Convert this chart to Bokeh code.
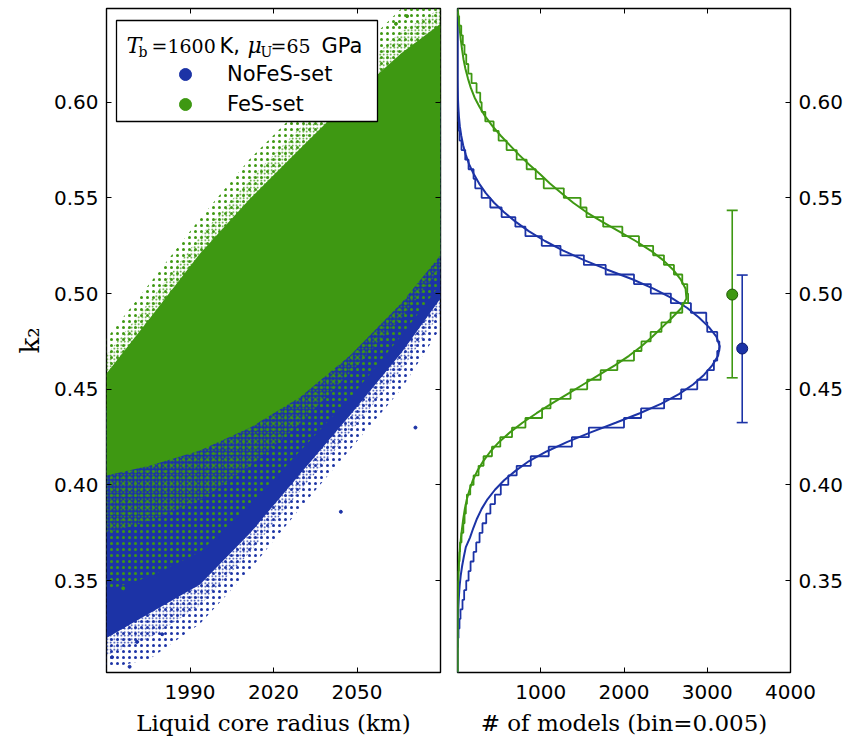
import numpy as np
from bokeh.plotting import figure
from bokeh.models import (Range1d, LinearAxis, Legend, LegendItem, BoxAnnotation,
                          Label, FixedTicker, NumeralTickFormatter)
from bokeh.layouts import row
from bokeh.embed import file_html
from bokeh.resources import INLINE

BLUE = "#1c33a6"
GREEN = "#3e9812"

# ---------------- data ----------------
radius_ticks = [1990, 2020, 2050]
k2_ticks = [0.35, 0.40, 0.45, 0.50, 0.55, 0.60]
count_ticks = [1000, 2000, 3000, 4000]

# scatter clouds: outlines (radius km, k2)
cloud_r = [1960, 1975.5, 1993.6, 2011.7, 2029.7, 2047.8, 2065.9, 2080]
nofes_outer_low = [0.304, 0.309, 0.3275, 0.356, 0.388, 0.419, 0.450, 0.482]
nofes_mid_low = [0.311, 0.320, 0.337, 0.365, 0.397, 0.428, 0.460, 0.490]
nofes_core_low = [0.320, 0.333, 0.348, 0.375, 0.406, 0.437, 0.469, 0.4975]
nofes_top = [0.44, 0.46, 0.48, 0.50, 0.52, 0.54, 0.57, 0.60]

fes_outer_top = [0.4766, 0.5053, 0.5393, 0.5707, 0.5969, 0.623, 0.649, 0.649]
fes_mid_top = [0.468, 0.496, 0.530, 0.560, 0.587, 0.613, 0.637, 0.649]
fes_core_top = [0.4583, 0.487, 0.521, 0.5498, 0.576, 0.602, 0.6256, 0.641]
fes_outer_low = [0.345, 0.352, 0.365, 0.390, 0.418, 0.446, 0.478, 0.505]
fes_mid_low = [0.375, 0.381, 0.392, 0.410, 0.432, 0.459, 0.487, 0.513]
fes_core_low = [0.405, 0.410, 0.418, 0.430, 0.446, 0.468, 0.495, 0.520]

# isolated models
nofes_pts_r = [1968.3, 1962.0, 1971.0, 2044.2, 2071.0, 1980.0]
nofes_pts_k = [0.305, 0.310, 0.318, 0.386, 0.430, 0.322]
fes_pts_r = [2064.0, 2068.0, 2056.0, 2040.0, 1966.0]
fes_pts_k = [0.641, 0.645, 0.628, 0.612, 0.346]

# histograms, bin = 0.005 from 0.300 to 0.650 (70 bins, bottom to top)
bin_lo, bin_w, n_bins = 0.300, 0.005, 70
nofes_hist = [0, 0, 0, 5, 12, 24, 36, 60, 80, 105,
              133, 157, 193, 225, 265, 300, 345, 395, 450, 520,
              610, 711, 880, 1096, 1374, 1578, 2000, 2205, 2482, 2687,
              2880, 3000, 3080, 3120, 3145, 3120, 3000, 2988, 2804, 2563,
              2322, 2120, 1780, 1518, 1237, 1012, 816, 695, 530, 394,
              290, 213, 193, 133, 93, 48, 25, 15, 8, 3,
              0, 0, 0, 0, 0, 0, 0, 0, 0, 0]
fes_hist = [0, 0, 0, 0, 0, 0, 0, 0, 3, 6,
            10, 15, 24, 30, 48, 70, 85, 100, 113, 153,
            193, 253, 313, 414, 514, 655, 816, 1016, 1117, 1358,
            1558, 1720, 1920, 2120, 2210, 2320, 2450, 2560, 2700, 2770,
            2760, 2700, 2600, 2480, 2350, 2180, 1980, 1750, 1550, 1478,
            1277, 1036, 940, 831, 711, 590, 494, 434, 334, 290,
            273, 229, 169, 130, 105, 84, 64, 45, 20, 5]
# fitted distributions at bin centres
nofes_fit = [0, 0, 0, 0, 2, 4, 7, 12, 18, 26,
             38, 55, 76, 100, 150, 190, 235, 290, 360, 450,
             560, 700, 860, 1070, 1320, 1600, 1900, 2190, 2450, 2660,
             2830, 2960, 3060, 3130, 3150, 3110, 3020, 2900, 2760, 2580,
             2360, 2100, 1800, 1520, 1270, 1050, 860, 700, 560, 440,
             340, 260, 195, 140, 100, 68, 45, 28, 17, 10,
             5, 2, 0, 0, 0, 0, 0, 0, 0, 0]
fes_fit = [0, 0, 0, 0, 0, 0, 0, 1, 3, 6,
           10, 15, 22, 30, 42, 55, 70, 88, 112, 145,
           185, 240, 310, 395, 500, 630, 780, 950, 1130, 1320,
           1510, 1700, 1890, 2060, 2210, 2340, 2460, 2580, 2690, 2750,
           2740, 2680, 2590, 2470, 2320, 2140, 1940, 1740, 1550, 1390,
           1250, 1110, 990, 860, 740, 630, 520, 420, 335, 265,
           205, 160, 125, 95, 72, 55, 40, 28, 15, 5]

# mean and 1-sigma of each set
set_count_pos = [3420, 3300]          # NoFeS, FeS
set_mean = [0.4713, 0.4995]
set_lo = [0.4326, 0.4560]
set_hi = [0.5097, 0.5435]

# ---------------- styling helpers ----------------
TICK_FONT = "DejaVu Sans"
SERIF = "DejaVu Serif"
Y0, Y1 = 0.302, 0.649
FRAME_H = 664


def style_axis(ax, show_labels=True):
    ax.major_tick_in = 5
    ax.major_tick_out = 0
    ax.minor_tick_line_color = None
    ax.axis_line_color = None
    ax.major_tick_line_color = "black"
    ax.major_tick_line_width = 1
    ax.major_label_text_font = TICK_FONT
    ax.major_label_text_color = "black"
    if show_labels:
        ax.major_label_text_font_size = "20px"
        ax.major_label_standoff = 12
    else:
        ax.major_label_text_font_size = "1px"
        ax.major_label_text_color = None
        ax.major_label_standoff = 0


def base_fig(xr, yr, fw, bl, br, y_loc="left"):
    p = figure(x_range=xr, y_range=yr, frame_width=fw, frame_height=FRAME_H,
               min_border_left=bl, min_border_right=br, min_border_top=8,
               min_border_bottom=56, output_backend="svg", toolbar_location=None,
               y_axis_location=y_loc)
    p.grid.visible = False
    p.outline_line_color = "black"
    p.outline_line_width = 1.4
    p.background_fill_color = "white"
    p.border_fill_color = "white"
    return p


def band(p, low, high, color, solid=False, scale=4):
    xs = list(cloud_r) + list(cloud_r)[::-1]
    ys = list(low) + list(high)[::-1]
    if solid:
        p.patch(xs, ys, fill_color=color, fill_alpha=1.0, line_color=None)
    else:
        p.patch(xs, ys, fill_alpha=0.0, line_color=None, hatch_pattern="dot",
                hatch_color=color, hatch_scale=scale, hatch_weight=1.6)


# ---------------- left panel ----------------
p1 = base_fig(Range1d(1960, 2080), Range1d(Y0, Y1), 334, 106, 7)
p1.xaxis.ticker = FixedTicker(ticks=radius_ticks)
p1.yaxis.ticker = FixedTicker(ticks=k2_ticks)
p1.yaxis.formatter = NumeralTickFormatter(format="0.00")
for ax in p1.xaxis + p1.yaxis:
    style_axis(ax)
p1.yaxis.major_label_standoff = 8
p1.xaxis.axis_label = "Liquid core radius (km)"
p1.yaxis.axis_label = "k\u2082"
p1.xaxis.axis_label_text_font = SERIF
p1.yaxis.axis_label_text_font = SERIF
p1.xaxis.axis_label_text_font_size = "23px"
p1.yaxis.axis_label_text_font_size = "26px"
p1.xaxis.axis_label_text_font_style = "normal"
p1.yaxis.axis_label_text_font_style = "normal"
p1.xaxis.axis_label_text_color = "black"
p1.yaxis.axis_label_text_color = "black"
p1.xaxis.axis_label_standoff = 8
p1.yaxis.axis_label_standoff = 6

top1 = LinearAxis(ticker=FixedTicker(ticks=radius_ticks))
right1 = LinearAxis(ticker=FixedTicker(ticks=k2_ticks))
style_axis(top1, False)
style_axis(right1, False)
p1.add_layout(top1, "above")
p1.add_layout(right1, "right")

# clouds: sparse edge, denser edge, solid core
band(p1, nofes_outer_low, nofes_top, BLUE, scale=6)
band(p1, nofes_mid_low, nofes_top, BLUE, scale=3.5)
band(p1, nofes_core_low, nofes_top, BLUE, solid=True)
band(p1, fes_outer_low, fes_outer_top, GREEN, scale=6)
band(p1, fes_mid_low, fes_mid_top, GREEN, scale=3.5)
band(p1, fes_core_low, fes_core_top, GREEN, solid=True)
r_nofes = p1.scatter(nofes_pts_r, nofes_pts_k, size=3, color=BLUE)
r_fes = p1.scatter(fes_pts_r, fes_pts_k, size=3, color=GREEN)

# legend box + title
p1.add_layout(BoxAnnotation(left=10, right=271, top=FRAME_H - 12, bottom=FRAME_H - 113,
                            left_units="screen", right_units="screen",
                            top_units="screen", bottom_units="screen",
                            fill_color="white", fill_alpha=1.0,
                            line_color="black", line_width=1.3, line_alpha=1.0))
leg = Legend(items=[LegendItem(label="NoFeS-set", renderers=[r_nofes]),
                    LegendItem(label="FeS-set", renderers=[r_fes])],
             location=(64, FRAME_H - 111), glyph_width=30, glyph_height=30, padding=0,
             margin=0, spacing=0, label_standoff=27, border_line_color=None,
             background_fill_alpha=0.0, label_text_font=TICK_FONT,
             label_text_font_size="21px", label_height=30, label_text_color="black")
p1.add_layout(leg)

base_y = FRAME_H - 37
sub_y = FRAME_H - 43
title_parts = [
    (20, base_y, "T", SERIF, "italic", "22px"),
    (32, sub_y, "b", SERIF, "normal", "14px"),
    (45, base_y, "=1600", SERIF, "normal", "19px"),
    (113, base_y, "K,", TICK_FONT, "normal", "21px"),
    (141, base_y, "\u03bc", SERIF, "italic", "22px"),
    (154, sub_y, "U", SERIF, "normal", "14px"),
    (164, base_y, "=65", SERIF, "normal", "19px"),
    (215, base_y, "GPa", TICK_FONT, "normal", "21px"),
]
for x, y, t, f, st, sz in title_parts:
    p1.add_layout(Label(x=x, y=y, x_units="screen", y_units="screen", text=t,
                        text_font=f, text_font_style=st, text_font_size=sz,
                        text_baseline="alphabetic", text_color="black"))

# ---------------- right panel ----------------
p2 = base_fig(Range1d(0, 4000), Range1d(Y0, Y1), 333, 10, 52, y_loc="right")
p2.xaxis.ticker = FixedTicker(ticks=count_ticks)
p2.yaxis.ticker = FixedTicker(ticks=k2_ticks)
p2.yaxis.formatter = NumeralTickFormatter(format="0.00")
for ax in p2.xaxis + p2.yaxis:
    style_axis(ax)
p2.yaxis.major_label_standoff = 8
p2.xaxis.axis_label = "# of models (bin=0.005)"
p2.xaxis.axis_label_text_font = SERIF
p2.xaxis.axis_label_text_font_size = "23px"
p2.xaxis.axis_label_text_font_style = "normal"
p2.xaxis.axis_label_text_color = "black"
p2.xaxis.axis_label_standoff = 8
top2 = LinearAxis(ticker=FixedTicker(ticks=count_ticks))
style_axis(top2, False)
p2.add_layout(top2, "above")

edges = bin_lo + bin_w * np.arange(n_bins + 1)
centers = edges[:-1] + bin_w / 2


def step_path(counts):
    xs, ys = [0.0], [edges[0]]
    for i, c in enumerate(counts):
        xs += [c, c]
        ys += [edges[i], edges[i + 1]]
    xs.append(0.0)
    ys.append(edges[-1])
    return xs, ys


for hist, fit, col in [(nofes_hist, nofes_fit, BLUE), (fes_hist, fes_fit, GREEN)]:
    hx, hy = step_path(hist)
    p2.line(hx, hy, line_color=col, line_width=1.8)
    p2.line(fit, list(centers), line_color=col, line_width=2.0)

for xpos, m, lo, hi, col, edge in zip(set_count_pos, set_mean, set_lo, set_hi,
                                      [BLUE, GREEN], ["#0a1a70", "#1f5a05"]):
    p2.segment([xpos], [lo], [xpos], [hi], line_color=col, line_width=1.6)
    p2.scatter([xpos, xpos], [lo, hi], marker="dash", size=11, line_color=col, line_width=1.6)
    p2.scatter([xpos], [m], marker="circle", size=11, fill_color=col, line_color=edge, line_width=1)

layout = row(p1, p2)
open("out.html", "w").write(file_html(layout, INLINE))
